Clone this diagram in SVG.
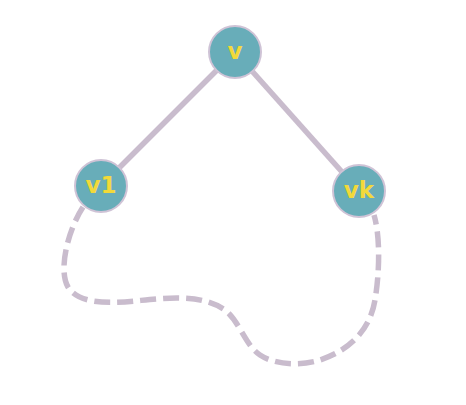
<svg xmlns="http://www.w3.org/2000/svg" width="466" height="405" viewBox="0 0 466 405">
<style>
.edge{stroke:#c9bccd;stroke-width:5.5;fill:none;stroke-linecap:butt}
.dash{stroke-dasharray:16 7}
.node circle{fill:#68adb9;stroke:#cfc3d6;stroke-width:2}
.node text{fill:#f2d93a;font-family:"DejaVu Sans",sans-serif;font-weight:bold;font-size:23px;text-anchor:middle;dominant-baseline:central}
</style>
<rect width="466" height="405" fill="#fff"/>
<g id="connectors">
<line class="edge" x1="235" y1="52" x2="101" y2="186"/>
<line class="edge" x1="235" y1="52" x2="359" y2="191"/>
<path class="edge dash" d="M83,207 C68,230 58,270 68,287 C78,303 105,304 135,301 C165,298 200,293 225,310 C240,322 245,345 260,355 C275,365 300,366 320,360 C350,350 370,330 375,300 C380,270 380,235 374,215"/>
</g>
<g id="v" class="node"><circle cx="235" cy="52" r="26"/><text x="235" y="51">v</text></g>
<g id="v1" class="node"><circle cx="101" cy="186" r="26"/><text x="101" y="185">v1</text></g>
<g id="vk" class="node"><circle cx="359" cy="191" r="26"/><text x="359" y="190">vk</text></g>
</svg>
